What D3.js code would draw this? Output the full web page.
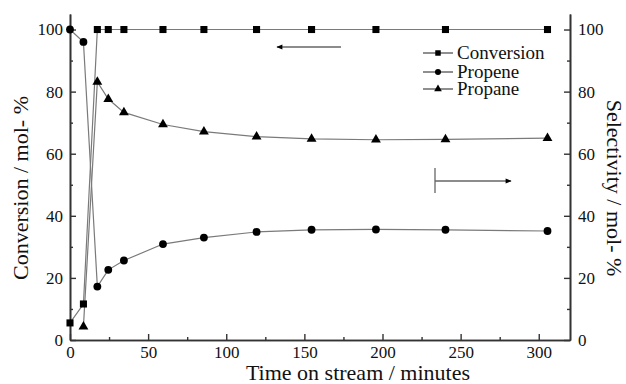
<!DOCTYPE html>
<html lang="en">
<head>
    <meta charset="UTF-8">
    <title>Conversion / Selectivity</title>
    <script src="https://cdn.jsdelivr.net/npm/d3@7/dist/d3.min.js"></script>
    <style>
        html, body {
            margin: 0;
            padding: 0;
            background: #fff;
        }
        svg text {
            font-family: "Liberation Serif", "Times New Roman", serif;
            fill: #111;
        }
    </style>
</head>
<body>
<svg id="chart" width="626" height="384"></svg>
<script>
    // time on stream (minutes)
    var times = [0, 8.6, 17.5, 24.5, 34.5, 59.5, 85.7, 119.4, 154.6, 195.8, 240.3, 305.6];
    var conversion = [5.5, 11.6, 100, 100, 100, 100, 100, 100, 100, 100, 100, 100];
    var propene = [100, 96, 17.2, 22.6, 25.6, 30.9, 33.0, 34.8, 35.5, 35.6, 35.5, 35.1];
    // no propane point at t=0
    var propane = [null, 4.3, 83.1, 77.6, 73.3, 69.4, 67.1, 65.5, 64.8, 64.5, 64.6, 65.0];
    var seriesNames = ["Conversion", "Propene", "Propane"];
    var xTicks = [0, 50, 100, 150, 200, 250, 300];
    var yTicks = [0, 20, 40, 60, 80, 100];

    var svg = d3.select("#chart");
    // plot box (window.top is reserved, so use other names)
    var padL = 70, padR = 570, padT = 14, padB = 340;

    var x = d3.scaleLinear().domain([0, 320]).range([padL, padR]);
    var y = d3.scaleLinear().domain([0, 105]).range([padB, padT]);

    var lineCol = "#7a7a7a";

    // axes, ticks pointing inward
    var xAxis = d3.axisBottom(x).tickValues(xTicks).tickSizeInner(-6).tickSizeOuter(0).tickPadding(6);
    var xMinor = d3.axisBottom(x).tickValues(d3.range(25, 320, 50)).tickSizeInner(-3).tickSizeOuter(0).tickFormat("");
    var yLeft = d3.axisLeft(y).tickValues(yTicks).tickSizeInner(-6).tickSizeOuter(0).tickPadding(7);
    var yLeftMinor = d3.axisLeft(y).tickValues(d3.range(10, 105, 20)).tickSizeInner(-3).tickSizeOuter(0).tickFormat("");
    var yRight = d3.axisRight(y).tickValues(yTicks).tickSizeInner(-6).tickSizeOuter(0).tickPadding(8);
    var yRightMinor = d3.axisRight(y).tickValues(d3.range(10, 105, 20)).tickSizeInner(-3).tickSizeOuter(0).tickFormat("");

    function styleAxis(g) {
        g.selectAll("path").attr("stroke", "#333").attr("stroke-width", 1.6);
        g.selectAll("line").attr("stroke", "#333").attr("stroke-width", 1.4);
        g.selectAll("text").attr("font-size", 17).attr("font-family", "Liberation Serif").attr("fill", "#111");
    }

    svg.append("g").attr("transform", "translate(0," + padB + ")").call(xMinor).call(styleAxis);
    svg.append("g").attr("transform", "translate(0," + padB + ")").call(xAxis).call(styleAxis);
    svg.append("g").attr("transform", "translate(" + padL + ",0)").call(yLeftMinor).call(styleAxis);
    svg.append("g").attr("transform", "translate(" + padL + ",0)").call(yLeft).call(styleAxis);
    svg.append("g").attr("transform", "translate(" + padR + ",0)").call(yRightMinor).call(styleAxis);
    svg.append("g").attr("transform", "translate(" + padR + ",0)").call(yRight).call(styleAxis);

    // axis titles
    svg.append("text")
        .attr("x", 358).attr("y", 380)
        .attr("text-anchor", "middle")
        .attr("font-size", 22)
        .text("Time on stream / minutes");
    svg.append("text")
        .attr("transform", "translate(28,188) rotate(-90)")
        .attr("text-anchor", "middle")
        .attr("font-size", 22)
        .text("Conversion / mol- %");
    svg.append("text")
        .attr("transform", "translate(607,188) rotate(90)")
        .attr("text-anchor", "middle")
        .attr("font-size", 22)
        .text("Selectivity / mol- %");

    var symbols = [d3.symbolSquare, d3.symbolCircle, d3.symbolTriangle];
    var sizes = [50, 48, 42];
    var allSeries = [conversion, propene, propane];

    var line = d3.line()
        .defined(function (d) { return d[1] != null; })
        .x(function (d) { return x(d[0]); })
        .y(function (d) { return y(d[1]); });

    // lines first, markers on top
    allSeries.forEach(function (vals) {
        var pts = times.map(function (t, i) { return [t, vals[i]]; });
        svg.append("path")
            .attr("d", line(pts))
            .attr("fill", "none")
            .attr("stroke", lineCol)
            .attr("stroke-width", 1.2);
    });
    allSeries.forEach(function (vals, k) {
        var pts = times.map(function (t, i) { return [t, vals[i]]; }).filter(function (d) { return d[1] != null; });
        svg.append("g").selectAll("path")
            .data(pts)
            .enter()
            .append("path")
            .attr("transform", function (d) { return "translate(" + x(d[0]) + "," + y(d[1]) + ")"; })
            .attr("d", d3.symbol().type(symbols[k]).size(sizes[k]))
            .attr("fill", "#000");
    });

    // legend
    var legY = [53, 72, 89];
    seriesNames.forEach(function (name, k) {
        var g = svg.append("g").attr("transform", "translate(0," + legY[k] + ")");
        g.append("line").attr("x1", 423).attr("x2", 453).attr("y1", 0).attr("y2", 0)
            .attr("stroke", "#444").attr("stroke-width", 1.2);
        g.append("path").attr("transform", "translate(438,0)")
            .attr("d", d3.symbol().type(symbols[k]).size(sizes[k] * 0.6))
            .attr("fill", "#000");
        g.append("text").attr("x", 457).attr("y", 6)
            .attr("font-size", 19)
            .text(name);
    });

    // arrows pointing to the axes
    var defs = svg.append("defs");
    defs.append("marker")
        .attr("id", "head")
        .attr("viewBox", "0 0 10 10")
        .attr("refX", 9).attr("refY", 5)
        .attr("markerWidth", 7).attr("markerHeight", 6)
        .attr("markerUnits", "userSpaceOnUse")
        .attr("orient", "auto")
        .append("path")
        .attr("d", "M0,1 L10,5 L0,9 Z")
        .attr("fill", "#000");
    var arrowCol = "#666";
    svg.append("line")
        .attr("x1", 341).attr("y1", 47).attr("x2", 277).attr("y2", 47)
        .attr("stroke", arrowCol).attr("stroke-width", 1.3)
        .attr("marker-end", "url(#head)");
    svg.append("line")
        .attr("x1", 435).attr("y1", 168).attr("x2", 435).attr("y2", 193)
        .attr("stroke", arrowCol).attr("stroke-width", 1.3);
    svg.append("line")
        .attr("x1", 435).attr("y1", 181).attr("x2", 511).attr("y2", 181)
        .attr("stroke", arrowCol).attr("stroke-width", 1.3)
        .attr("marker-end", "url(#head)");
</script>
</body>
</html>
